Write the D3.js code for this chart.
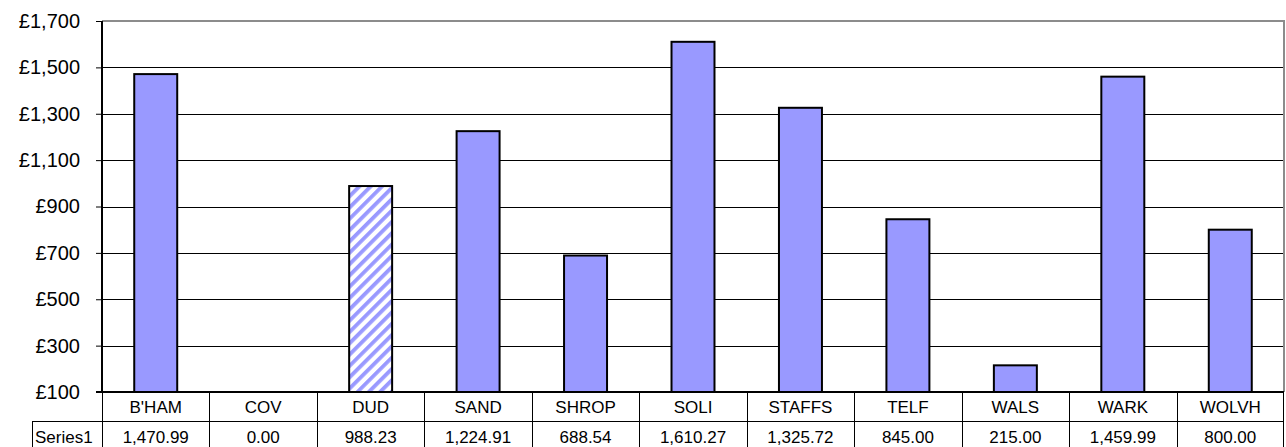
<!DOCTYPE html>
<html>
<head>
<meta charset="utf-8">
<script src="https://cdn.jsdelivr.net/npm/d3@7"></script>
<style>
html,body{margin:0;padding:0;background:#fff;}
svg{display:block;font-family:"Liberation Sans",Arial,sans-serif;}
</style>
</head>
<body>
<svg id="chart" width="1286" height="447"></svg>
<script>
const categories = ["B'HAM","COV","DUD","SAND","SHROP","SOLI","STAFFS","TELF","WALS","WARK","WOLVH"];
const values = [1470.99, 0.00, 988.23, 1224.91, 688.54, 1610.27, 1325.72, 845.00, 215.00, 1459.99, 800.00];
const seriesName = "Series1";
const yTicks = [100, 300, 500, 700, 900, 1100, 1300, 1500, 1700];
const patterned = ["DUD"];

const svg = d3.select("#chart");
const pLeft = 102, pRight = 1284, pTop = 21, pBottom = 392;
const rowMid = 421, tableBottom = 447;

const x = d3.scaleBand().domain(categories).range([pLeft, pRight]).paddingInner(0.6).paddingOuter(0.3);
const cols = d3.scaleBand().domain(categories).range([pLeft, pRight]).padding(0);
const y = d3.scaleLinear().domain([d3.min(yTicks), d3.max(yTicks)]).range([pBottom, pTop]);

// pattern
const defs = svg.append("defs");
const pat = defs.append("pattern").attr("id","stripes").attr("patternUnits","userSpaceOnUse")
  .attr("width", 8).attr("height", 8).attr("patternTransform","rotate(45)");
pat.append("rect").attr("width",8).attr("height",8).attr("fill","#fff");
pat.append("rect").attr("x",0).attr("width",3.8).attr("height",8).attr("fill","#9999FF");

// gridlines
svg.append("g").selectAll("line").data(yTicks.filter(t => t !== d3.min(yTicks) && t !== d3.max(yTicks)))
  .join("line")
  .attr("x1", pLeft).attr("x2", pRight)
  .attr("y1", d => Math.round(y(d)) + 0.5).attr("y2", d => Math.round(y(d)) + 0.5)
  .attr("stroke", "#000").attr("stroke-width", 1);

// plot border (top/right)
svg.append("path")
  .attr("d", `M${pLeft},${pTop} H${pRight} V${pBottom}`)
  .attr("fill","none").attr("stroke","#8c8c8c").attr("stroke-width",2);

// bars
const y0 = d3.min(yTicks);
svg.append("g").selectAll("rect").data(categories.map((c,i) => ({c, v: values[i]})).filter(d => d.v > y0))
  .join("rect")
  .attr("x", d => x(d.c))
  .attr("width", x.bandwidth())
  .attr("y", d => y(d.v))
  .attr("height", d => y(y0) - y(d.v))
  .attr("fill", d => patterned.includes(d.c) ? "url(#stripes)" : "#9999FF")
  .attr("stroke", "#000").attr("stroke-width", 2);

// y axis
const yAxis = svg.append("g").attr("transform", `translate(${pLeft},0)`)
  .call(d3.axisLeft(y).tickValues(yTicks).tickSize(6).tickPadding(16)
    .tickFormat(d => "£" + d3.format(",")(d)));
yAxis.select(".domain").attr("stroke","#000").attr("stroke-width",2).attr("d", `M0,${pTop}V${pBottom}`);
yAxis.selectAll(".tick line").attr("stroke","#000");
yAxis.selectAll(".tick text").attr("font-size", 20).attr("fill","#000")
  .attr("font-family","'Liberation Sans',Arial,sans-serif");

// table
const tbl = svg.append("g");
tbl.append("line").attr("x1", pLeft - 6).attr("x2", pRight).attr("y1", pBottom).attr("y2", pBottom)
  .attr("stroke","#000").attr("stroke-width",2);
tbl.append("line").attr("x1", 32).attr("x2", pRight).attr("y1", rowMid + 0.5).attr("y2", rowMid + 0.5)
  .attr("stroke","#000").attr("stroke-width",1);
tbl.selectAll("line.v").data(categories).join("line").attr("class","v")
  .attr("x1", d => Math.round(cols(d)) + 0.5).attr("x2", d => Math.round(cols(d)) + 0.5)
  .attr("y1", pBottom).attr("y2", tableBottom)
  .attr("stroke","#000").attr("stroke-width",1);
tbl.append("line").attr("x1", pRight - 0.5).attr("x2", pRight - 0.5).attr("y1", pBottom).attr("y2", tableBottom)
  .attr("stroke","#000").attr("stroke-width",1);
tbl.append("line").attr("x1", 32.5).attr("x2", 32.5).attr("y1", rowMid).attr("y2", tableBottom)
  .attr("stroke","#000").attr("stroke-width",1);
tbl.selectAll("text.cat").data(categories).join("text").attr("class","cat")
  .attr("x", d => cols(d) + cols.bandwidth()/2).attr("y", 407.5)
  .attr("text-anchor","middle").attr("dominant-baseline","central")
  .attr("font-size", 17).attr("fill","#000").text(d => d);
tbl.selectAll("text.val").data(values).join("text").attr("class","val")
  .attr("x", (d,i) => cols(categories[i]) + cols.bandwidth()/2).attr("y", 437.5)
  .attr("text-anchor","middle").attr("dominant-baseline","central")
  .attr("font-size", 17).attr("fill","#000").text(d => d3.format(",.2f")(d));
tbl.append("text").attr("x", 35).attr("y", 437.5).attr("dominant-baseline","central")
  .attr("font-size", 17).attr("fill","#000").text(seriesName);
</script>
</body>
</html>
